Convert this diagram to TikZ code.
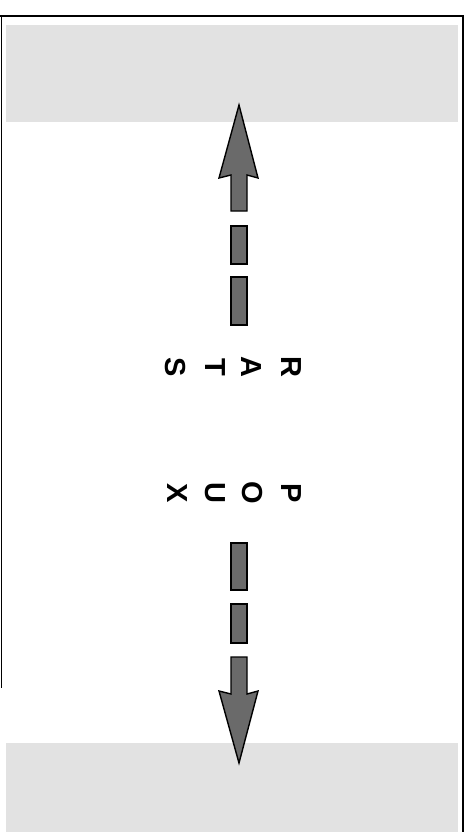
\documentclass[tikz,border=0pt]{standalone}
\usepackage{fontspec}
\setsansfont{Liberation Sans}
\begin{document}
\begin{tikzpicture}[x=1pt,y=-1pt]
    % Define colours
    \definecolor{panelColour}{HTML}{E2E2E2}
    \definecolor{arrowColour}{HTML}{6A6A6A}

    % Define styles
    \tikzset{letter/.style={rotate=-90, inner sep=0pt, font=\sffamily\bfseries\fontsize{29}{29}\selectfont},
             dashbox/.style={fill=arrowColour, draw=black, line width=1.4pt, line join=miter},
             panel/.style={fill=panelColour, inner sep=0pt, anchor=north west, minimum width=452pt}}

    % Define shaft edges
    \def\shaftL{231}
    \def\shaftR{247}

    \useasboundingbox (0,0) rectangle (470,832);

    % Draw frame
    \draw[line width=2pt] (0,16) -- (463,16) -- (463,832);
    \draw[line width=0.8pt] (1,16) -- (1,688);

    % Draw grey panels
    \node[panel, minimum height=97pt] (topPanel) at (6,25) {};
    \node[panel, minimum height=89pt] (bottomPanel) at (6,743) {};

    % Draw dashes
    \foreach \a/\b in {226/264, 277/325, 543/590, 604/643}
        \filldraw[dashbox] (\shaftL,\a) rectangle (\shaftR,\b);

    % Draw arrow heads
    \coordinate (upTip) at (239,105);
    \coordinate (downTip) at (239,763);
    \filldraw[dashbox] (upTip) -- (258,178) -- (\shaftR,175) -- (\shaftR,211)
        -- (\shaftL,211) -- (\shaftL,175) -- (219,178) -- cycle;
    \filldraw[dashbox] (downTip) -- (258,691) -- (\shaftR,694) -- (\shaftR,657)
        -- (\shaftL,657) -- (\shaftL,694) -- (219,691) -- cycle;

    % Draw letters
    \foreach \ch/\x in {R/291, A/251, T/215, S/175}
        \node[letter] (rats\ch) at (\x,367) {\ch};
    \foreach \ch/\x in {P/291, O/252, U/215, X/177}
        \node[letter] (poux\ch) at (\x,493) {\ch};

\end{tikzpicture}
\end{document}
